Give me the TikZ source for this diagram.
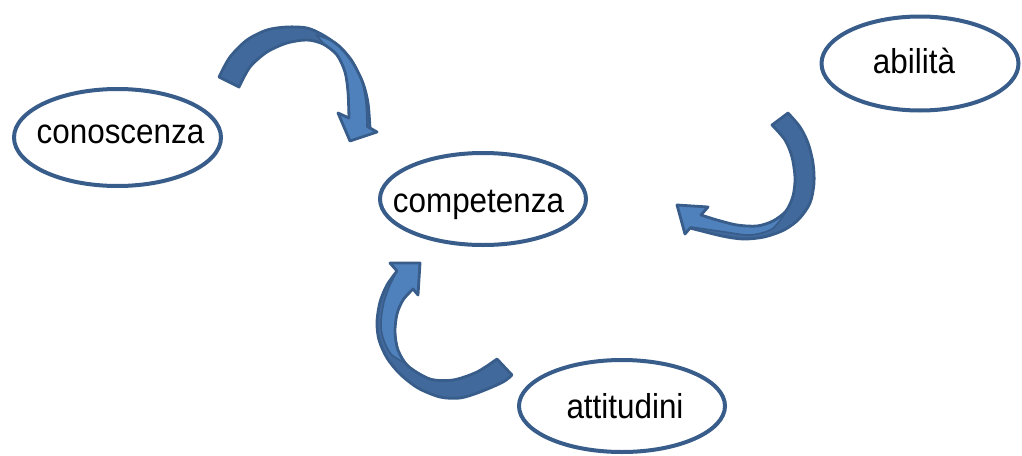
\documentclass[tikz,border=0pt]{standalone}
\usepackage{fontspec}
\setmainfont{Liberation Sans}
\usetikzlibrary{shapes.geometric}
\definecolor{edgeblue}{RGB}{56,93,138}
\definecolor{darkface}{RGB}{66,105,156}
\definecolor{lightface}{RGB}{79,129,189}
\newcommand{\tallword}[1]{\scalebox{1}[1.1]{#1}}
\tikzset{
  ell/.style={ellipse, draw=edgeblue, line width=4pt, fill=white, inner sep=0pt},
  lbl/.style={font=\fontsize{31.4}{36}\selectfont, inner sep=0pt, text=black},
  bandback/.style={fill=darkface, draw=none},
  bandfront/.style={fill=lightface, draw=edgeblue, line width=1.6pt, line join=round},
  bandedge/.style={draw=edgeblue, line width=2.8pt, line join=round}
}
\begin{document}
\begin{tikzpicture}[x=1pt,y=-1pt]
\useasboundingbox (0,0) rectangle (1022,455);

% ellipses
\node[ell, minimum width=207pt, minimum height=97pt] (conoscenza) at (117.5,137.5) {};
\node[lbl, anchor=base] (conoscenzaT) at (120.5,143) {\tallword{conoscenza}};
\node[ell, minimum width=206pt, minimum height=92pt] (competenza) at (483,199) {};
\node[lbl, anchor=base] (competenzaT) at (478.5,212) {\tallword{competenza}};
\node[ell, minimum width=197pt, minimum height=94pt] (abilita) at (920,63.5) {};
\node[lbl, anchor=base] (abilitaT) at (914,73) {\tallword{abilità}};
\node[ell, minimum width=206pt, minimum height=92pt] (attitudini) at (622,406) {};
\node[lbl, anchor=base] (attitudiniT) at (625,418) {\tallword{attitudini}};

% arrow 1 : conoscenza -> competenza
\def\arrowA{(239,87) -- (219,77) -- plot[smooth] coordinates {(219,77) (230,57) (247,40) (267,30) (287,27) (307,28) (323,35) (340,47) (353,63) (363,83) (368,103) (370,128)}
  -- (377,132) -- (350,141) -- (338,113) -- (349,118)
  -- plot[smooth] coordinates {(349,118) (348,92) (345,72) (337,55) (323,44) (307,40) (287,43) (267,52) (250,67) (239,87)} -- cycle}
\path[bandback] \arrowA;
\path[bandfront] (316,35) -- plot[smooth] coordinates {(316,35) (336,43) (352,60) (362,82) (366,103) (367,127)}
  -- (377,132) -- (350,141) -- (338,113) -- (349,118)
  -- plot[smooth] coordinates {(349,118) (348,92) (345,72) (337,55) (325,45)} -- cycle;
\path[bandedge] \arrowA;

% arrow 2 : abilita -> competenza
\def\arrowB{(772,125) -- (788,113) -- plot[smooth] coordinates {(788,113) (800,127) (808,143) (813,163) (814,183) (810,203) (799,219) (784,230) (764,237) (743,239) (722,236) (690,228)}
  -- (685,234) -- (677,205) -- (708,207) -- (701,215)
  -- plot[smooth] coordinates {(701,215) (717,220) (737,225) (757,226) (773,221) (786,211) (793,196) (795,178) (792,157) (785,140) (772,125)} -- cycle}
\path[bandback] \arrowB;
\path[bandfront] (786,212) -- plot[smooth] coordinates {(786,212) (772,229) (750,235) (725,232) (691,227)}
  -- (685,234) -- (677,205) -- (708,207) -- (701,215)
  -- plot[smooth] coordinates {(701,215) (717,220) (737,225) (757,226) (773,221) (786,212)} -- cycle;
\path[bandedge] \arrowB;

% arrow 3 : attitudini -> competenza
\def\arrowC{(497,359) -- (512,375) -- plot[smooth] coordinates {(512,375) (503,382) (480,392) (460,398) (440,397) (418,388) (400,374) (387,358) (379,340) (377,322) (380,302) (387,285) (397,271)}
  -- (390,263) -- (420,263) -- (418,295) -- (413,289)
  -- plot[smooth] coordinates {(413,289) (403,300) (397,314) (395,332) (398,350) (408,366) (430,379) (453,380) (477,372) (497,359)} -- cycle}
\path[bandback] \arrowC;
\path[bandfront] (397,271) -- (390,263) -- (420,263) -- (418,295) -- (413,289)
  -- plot[smooth] coordinates {(413,289) (403,300) (397,314) (395,332) (398,350) (405,363)}
  -- plot[smooth] coordinates {(405,363) (391,354) (383,338) (381,322) (384,302) (390,285) (397,271)} -- cycle;
\path[bandedge] \arrowC;
\end{tikzpicture}
\end{document}
